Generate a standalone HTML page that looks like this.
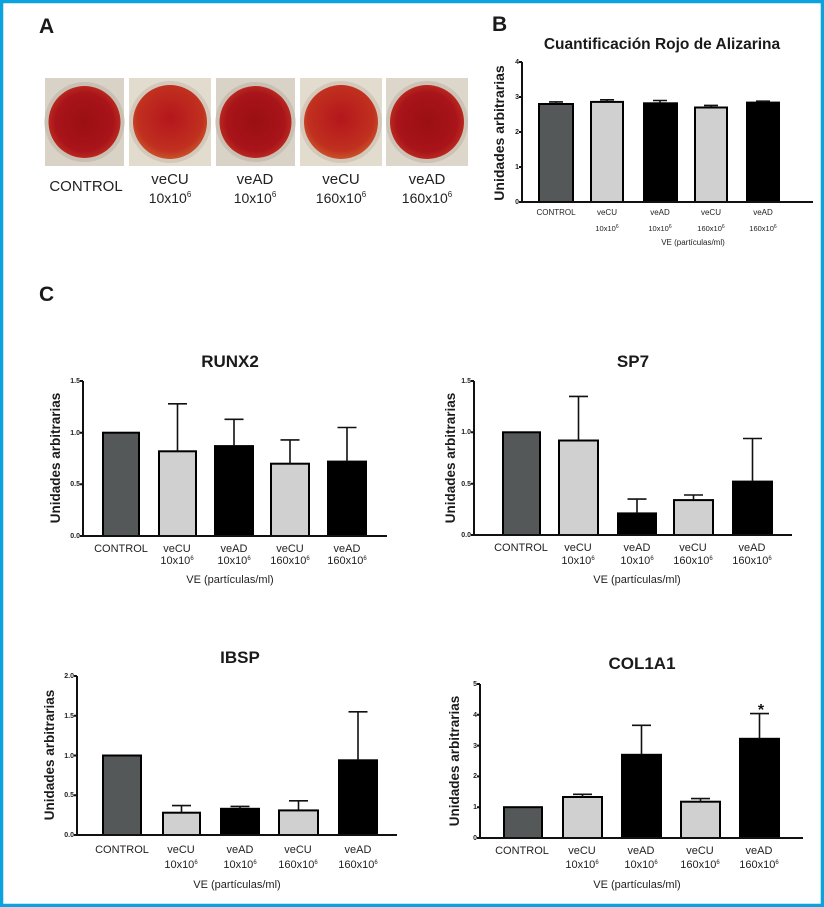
<!DOCTYPE html>
<html><head><meta charset="utf-8"><style>
html,body{margin:0;padding:0;background:#fff}
svg{display:block}
text{font-family:"Liberation Sans",Arial,sans-serif;fill:#222}
.t{font-weight:bold;font-size:7px;text-anchor:end}
.c{font-size:11px;text-anchor:middle}
.cb{font-size:8px;text-anchor:middle}
.h{font-weight:bold;font-size:17px;text-anchor:middle;fill:#1a1a1a}
.y{font-weight:bold;font-size:13.5px;text-anchor:middle;fill:#1a1a1a}
.P{font-weight:bold;font-size:21px;fill:#1a1a1a}
.ax{stroke:#111;stroke-width:2;fill:none}
.g{fill:#555859;stroke:#000;stroke-width:2}
.l{fill:#cfd0cf;stroke:#000;stroke-width:2}
.k{fill:#000;stroke:#000;stroke-width:2}
.e{stroke:#111;stroke-width:1.6;fill:none}
</style></head><body>
<svg width="824" height="907" viewBox="0 0 824 907" xmlns="http://www.w3.org/2000/svg">
<defs>
<radialGradient id="pl" cx="50%" cy="50%" r="50%">
<stop offset="0" stop-color="#9a0f12"/><stop offset="0.8" stop-color="#a8141a"/><stop offset="1" stop-color="#b9281f"/>
</radialGradient>
<radialGradient id="pl2" cx="50%" cy="45%" r="55%">
<stop offset="0" stop-color="#b5161c"/><stop offset="0.8" stop-color="#c0301f"/><stop offset="1" stop-color="#c8522a"/>
</radialGradient>
</defs>
<rect x="1.5" y="1.5" width="821" height="904" fill="none" stroke="#0aa3e0" stroke-width="3.5"/>

<!-- Panel A -->
<text class="P" x="39" y="33">A</text>
<rect x="45" y="78" width="79" height="88" fill="#d9d2c6"/><circle cx="84.5" cy="122" r="40" fill="#c9bfb3"/><circle cx="84.5" cy="122" r="36" fill="url(#pl)"/>
<rect x="129" y="78" width="82" height="88" fill="#e2dccf"/><circle cx="170" cy="122" r="41" fill="#d4c8bb"/><circle cx="170" cy="122" r="37" fill="url(#pl2)"/>
<rect x="216" y="78" width="79" height="88" fill="#d9d2c6"/><circle cx="255.5" cy="122" r="40" fill="#c9bfb3"/><circle cx="255.5" cy="122" r="36" fill="url(#pl)"/>
<rect x="300" y="78" width="82" height="88" fill="#e2dccf"/><circle cx="341" cy="122" r="41" fill="#d4c8bb"/><circle cx="341" cy="122" r="37" fill="url(#pl2)"/>
<rect x="386" y="78" width="82" height="88" fill="#ddd6ca"/><circle cx="427" cy="122" r="41" fill="#ccc2b5"/><circle cx="427" cy="122" r="37" fill="url(#pl)"/>
<text x="86" y="191" style="font-size:15px;text-anchor:middle">CONTROL</text>
<text x="170" y="184" style="font-size:15px;text-anchor:middle">veCU</text>
<text x="170" y="203" style="font-size:14px;text-anchor:middle">10x10<tspan dy="-6" font-size="8">6</tspan></text>
<text x="255" y="184" style="font-size:15px;text-anchor:middle">veAD</text>
<text x="255" y="203" style="font-size:14px;text-anchor:middle">10x10<tspan dy="-6" font-size="8">6</tspan></text>
<text x="341" y="184" style="font-size:15px;text-anchor:middle">veCU</text>
<text x="341" y="203" style="font-size:14px;text-anchor:middle">160x10<tspan dy="-6" font-size="8">6</tspan></text>
<text x="427" y="184" style="font-size:15px;text-anchor:middle">veAD</text>
<text x="427" y="203" style="font-size:14px;text-anchor:middle">160x10<tspan dy="-6" font-size="8">6</tspan></text>

<!-- Panel B -->
<text class="P" x="492" y="31">B</text>
<text x="662" y="49" style="font-weight:bold;font-size:15.5px;text-anchor:middle;fill:#1a1a1a">Cuantificación Rojo de Alizarina</text>
<text class="y" transform="translate(504,133) rotate(-90)" style="font-size:14px">Unidades arbitrarias</text>
<g class="t"><text x="519" y="204">0</text><text x="519" y="169">1</text><text x="519" y="134">2</text><text x="519" y="99">3</text><text x="519" y="64">4</text></g>
<rect class="g" x="539" y="104" width="34" height="98"/><path class="e" d="M556 104V101.9M549 101.9H563"/>
<rect class="l" x="591" y="101.9" width="32" height="100.1"/><path class="e" d="M607 101.9V99.8M600 99.8H614"/>
<rect class="k" x="644" y="103.3" width="33" height="98.7"/><path class="e" d="M660 103.3V100.5M653 100.5H667"/>
<rect class="l" x="695" y="107.5" width="32" height="94.5"/><path class="e" d="M711 107.5V105.4M704 105.4H718"/>
<rect class="k" x="747" y="102.6" width="32" height="99.4"/><path class="e" d="M763 102.6V101.2M756 101.2H770"/>
<path class="ax" d="M522 62V202H813M519 62H522M519 97H522M519 132H522M519 167H522M519 202H522"/>
<g class="cb"><text x="556" y="215">CONTROL</text><text x="607" y="215">veCU</text><text x="660" y="215">veAD</text><text x="711" y="215">veCU</text><text x="763" y="215">veAD</text>
<text x="607" y="231" font-size="7.5">10x10<tspan dy="-3" font-size="5">6</tspan></text><text x="660" y="231" font-size="7.5">10x10<tspan dy="-3" font-size="5">6</tspan></text><text x="711" y="231" font-size="7.5">160x10<tspan dy="-3" font-size="5">6</tspan></text><text x="763" y="231" font-size="7.5">160x10<tspan dy="-3" font-size="5">6</tspan></text>
<text x="693" y="245">VE (partículas/ml)</text></g>

<!-- Panel C -->
<text class="P" x="39" y="301">C</text>

<!-- RUNX2 -->
<text class="h" x="230" y="367">RUNX2</text>
<text class="y" transform="translate(60,458) rotate(-90)">Unidades arbitrarias</text>
<g class="t"><text x="80" y="538">0.0</text><text x="80" y="486">0.5</text><text x="80" y="435">1.0</text><text x="80" y="383">1.5</text></g>
<rect class="g" x="103" y="432.7" width="36" height="103.3"/>
<rect class="l" x="159" y="451.3" width="37" height="84.7"/><path class="e" d="M177.5 451.3V403.8M168 403.8H187"/>
<rect class="k" x="215" y="446.1" width="38" height="89.9"/><path class="e" d="M234 446.1V419.3M224.5 419.3H243.5"/>
<rect class="l" x="271" y="463.7" width="38" height="72.3"/><path class="e" d="M290 463.7V439.9M280.5 439.9H299.5"/>
<rect class="k" x="328" y="461.6" width="38" height="74.4"/><path class="e" d="M347 461.6V427.5M337.5 427.5H356.5"/>
<path class="ax" d="M83 381V536H387M80 381H83M80 484.3H83M80 432.7H83M80 536H83"/>
<g class="c"><text x="121" y="552">CONTROL</text><text x="177" y="552">veCU</text><text x="234" y="552">veAD</text><text x="290" y="552">veCU</text><text x="347" y="552">veAD</text>
<text x="177" y="564">10x10<tspan dy="-4" font-size="6">6</tspan></text><text x="234" y="564">10x10<tspan dy="-4" font-size="6">6</tspan></text><text x="290" y="564">160x10<tspan dy="-4" font-size="6">6</tspan></text><text x="347" y="564">160x10<tspan dy="-4" font-size="6">6</tspan></text>
<text x="230" y="583">VE (partículas/ml)</text></g>

<!-- SP7 -->
<text class="h" x="633" y="367">SP7</text>
<text class="y" transform="translate(455,458) rotate(-90)">Unidades arbitrarias</text>
<g class="t"><text x="471" y="537">0.0</text><text x="471" y="486">0.5</text><text x="471" y="434">1.0</text><text x="471" y="383">1.5</text></g>
<rect class="g" x="503" y="432.3" width="37" height="102.7"/>
<rect class="l" x="559" y="440.5" width="39" height="94.5"/><path class="e" d="M578.5 440.5V396.4M569 396.4H588"/>
<rect class="k" x="618" y="513.4" width="38" height="21.6"/><path class="e" d="M637 513.4V499.1M627.5 499.1H646.5"/>
<rect class="l" x="674" y="500.1" width="39" height="34.9"/><path class="e" d="M693.5 500.1V495M684 495H703"/>
<rect class="k" x="733" y="481.6" width="39" height="53.4"/><path class="e" d="M752.5 481.6V438.5M743 438.5H762"/>
<path class="ax" d="M474 381V535H792M471 381H474M471 483.7H474M471 432.3H474M471 535H474"/>
<g class="c"><text x="521" y="551">CONTROL</text><text x="578" y="551">veCU</text><text x="637" y="551">veAD</text><text x="693" y="551">veCU</text><text x="752" y="551">veAD</text>
<text x="578" y="564">10x10<tspan dy="-4" font-size="6">6</tspan></text><text x="637" y="564">10x10<tspan dy="-4" font-size="6">6</tspan></text><text x="693" y="564">160x10<tspan dy="-4" font-size="6">6</tspan></text><text x="752" y="564">160x10<tspan dy="-4" font-size="6">6</tspan></text>
<text x="637" y="583">VE (partículas/ml)</text></g>

<!-- IBSP -->
<text class="h" x="240" y="663">IBSP</text>
<text class="y" transform="translate(54,755) rotate(-90)">Unidades arbitrarias</text>
<g class="t"><text x="74" y="837">0.0</text><text x="74" y="797">0.5</text><text x="74" y="758">1.0</text><text x="74" y="718">1.5</text><text x="74" y="678">2.0</text></g>
<rect class="g" x="103" y="755.5" width="38" height="79.5"/>
<rect class="l" x="163" y="812.7" width="37" height="22.3"/><path class="e" d="M181.5 812.7V805.6M172 805.6H191"/>
<rect class="k" x="221" y="808.8" width="38" height="26.2"/><path class="e" d="M240 808.8V806.4M230.5 806.4H249.5"/>
<rect class="l" x="279" y="810.4" width="39" height="24.6"/><path class="e" d="M298.5 810.4V800.8M289 800.8H308"/>
<rect class="k" x="339" y="760.3" width="38" height="74.7"/><path class="e" d="M358 760.3V711.8M348.5 711.8H367.5"/>
<path class="ax" d="M77 676V835H397M74 676H77M74 715.8H77M74 755.5H77M74 795.3H77M74 835H77"/>
<g class="c"><text x="122" y="853">CONTROL</text><text x="181" y="853">veCU</text><text x="240" y="853">veAD</text><text x="298" y="853">veCU</text><text x="358" y="853">veAD</text>
<text x="181" y="868">10x10<tspan dy="-4" font-size="6">6</tspan></text><text x="240" y="868">10x10<tspan dy="-4" font-size="6">6</tspan></text><text x="298" y="868">160x10<tspan dy="-4" font-size="6">6</tspan></text><text x="358" y="868">160x10<tspan dy="-4" font-size="6">6</tspan></text>
<text x="237" y="888">VE (partículas/ml)</text></g>

<!-- COL1A1 -->
<text class="h" x="642" y="669">COL1A1</text>
<text class="y" transform="translate(459,761) rotate(-90)">Unidades arbitrarias</text>
<g class="t"><text x="477" y="840">0</text><text x="477" y="809">1</text><text x="477" y="778">2</text><text x="477" y="748">3</text><text x="477" y="717">4</text><text x="477" y="686">5</text></g>
<rect class="g" x="504" y="807.2" width="38" height="30.8"/>
<rect class="l" x="563" y="797" width="39" height="41"/><path class="e" d="M582.5 797V794.3M573 794.3H592"/>
<rect class="k" x="622" y="754.8" width="39" height="83.2"/><path class="e" d="M641.5 754.8V725.3M632 725.3H651"/>
<rect class="l" x="681" y="801.7" width="39" height="36.3"/><path class="e" d="M700.5 801.7V798.6M691 798.6H710"/>
<rect class="k" x="740" y="738.8" width="39" height="99.2"/><path class="e" d="M759.5 738.8V713.6M750 713.6H769"/>
<text x="761" y="715" style="font-weight:bold;font-size:16px;text-anchor:middle;fill:#111">*</text>
<path class="ax" d="M480 684V838H803M477 684H480M477 714.8H480M477 745.6H480M477 776.4H480M477 807.2H480M477 838H480"/>
<g class="c"><text x="522" y="854">CONTROL</text><text x="582" y="854">veCU</text><text x="641" y="854">veAD</text><text x="700" y="854">veCU</text><text x="759" y="854">veAD</text>
<text x="582" y="868">10x10<tspan dy="-4" font-size="6">6</tspan></text><text x="641" y="868">10x10<tspan dy="-4" font-size="6">6</tspan></text><text x="700" y="868">160x10<tspan dy="-4" font-size="6">6</tspan></text><text x="759" y="868">160x10<tspan dy="-4" font-size="6">6</tspan></text>
<text x="637" y="888">VE (partículas/ml)</text></g>
</svg>
</body></html>
